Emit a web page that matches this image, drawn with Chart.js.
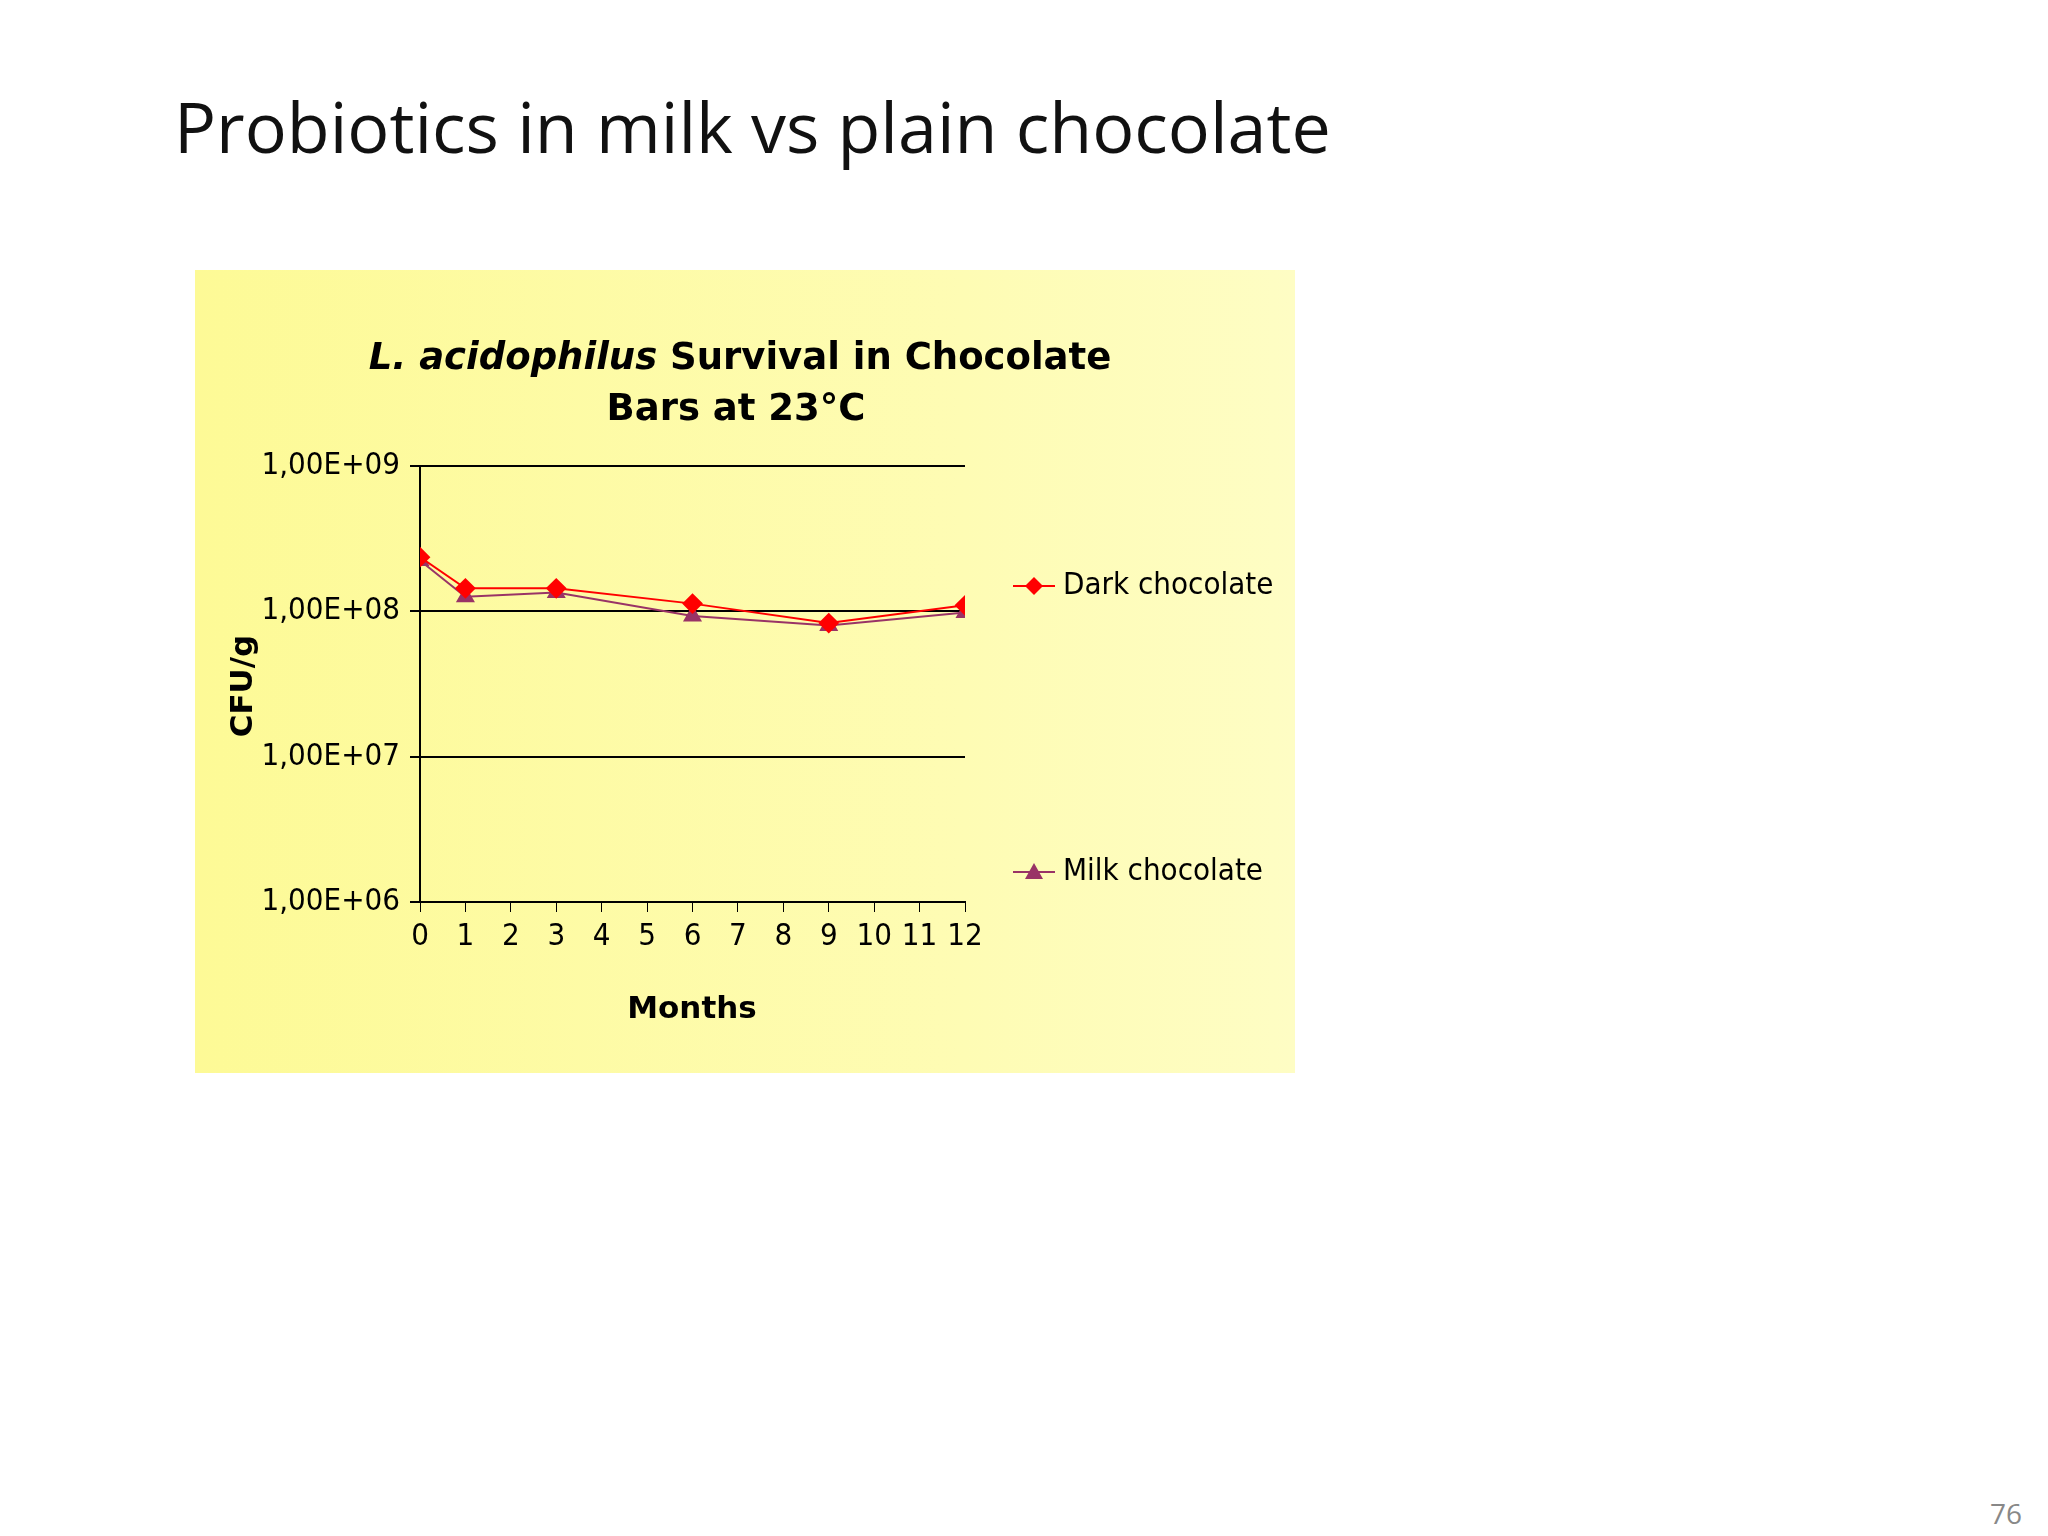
<!DOCTYPE html>
<html><head><meta charset="utf-8">
<script src="https://cdn.jsdelivr.net/npm/chart.js@4"></script>
<style>
body{margin:0;width:2048px;height:1536px;background:#fff;position:relative;overflow:hidden;font-family:"Open Sans",sans-serif}
#t{position:absolute;left:174px;top:78px;font-size:70px;color:#111}
#pg{position:absolute;right:26px;bottom:4px;font-size:28px;color:#888}
#box{position:absolute;left:195px;top:270px;width:1100px;height:803px;background:linear-gradient(90deg,#fdfa96,#fefcb4 70%,#fefdc4)}
</style></head><body>
<div id="t">Probiotics in milk vs plain chocolate</div>
<div id="box"><canvas id="c" width="1100" height="803"></canvas></div>
<div id="pg">76</div>
<script>
const months=[0,1,3,6,9,12];
const darkChocolate=[2.36e8,1.44e8,1.44e8,1.13e8,8.3e7,1.1e8];
const milkChocolate=[2.24e8,1.26e8,1.35e8,9.3e7,8.0e7,9.8e7];
const yTicks=[1e6,1e7,1e8,1e9];
const yLabels=["1,00E+06","1,00E+07","1,00E+08","1,00E+09"];
const lab='"Liberation Sans Narrow","DejaVu Sans Condensed",sans-serif';
const deco={id:'deco',afterDraw(ch){const x=ch.ctx;x.save();x.fillStyle='#000';x.textAlign='center';x.textBaseline='middle';
x.font='bold 37px "DejaVu Sans"';const a='L. acidophilus',b=' Survival in Chocolate';
x.font='italic bold 37px "DejaVu Sans"';const wa=x.measureText(a).width;x.font='bold 37px "DejaVu Sans"';const wb=x.measureText(b).width;
let sx=545-(wa+wb)/2;x.textAlign='left';x.font='italic bold 37px "DejaVu Sans"';x.fillText(a,sx,89);x.font='bold 37px "DejaVu Sans"';x.fillText(b,sx+wa,89);
x.textAlign='center';x.fillText('Bars at 23°C',541,140);
x.font='bold 31px "DejaVu Sans"';x.fillText('Months',497,740);
x.save();x.translate(49,416);x.rotate(-Math.PI/2);x.fillText('CFU/g',0,0);x.restore();
const L=[['Dark chocolate','#ff0000','d',316],['Milk chocolate','#993366','t',602]];
x.textAlign='left';x.font='31px '+lab;
for(const [t,c,m,y] of L){x.strokeStyle=c;x.lineWidth=2;x.beginPath();x.moveTo(818,y);x.lineTo(860,y);x.stroke();x.fillStyle=c;x.beginPath();
if(m==='d'){x.moveTo(839,y-9);x.lineTo(848,y);x.lineTo(839,y+9);x.lineTo(830,y);}else{x.moveTo(839,y-9);x.lineTo(848,y+7);x.lineTo(830,y+7);}
x.closePath();x.fill();x.fillStyle='#000';x.fillText(t,868,y);}
x.restore();}};
new Chart(document.getElementById('c'),{type:'line',
data:{datasets:[
{label:'Dark chocolate',data:months.map((m,i)=>({x:m,y:darkChocolate[i]})),borderColor:'#ff0000',backgroundColor:'#ff0000',borderWidth:2,pointStyle:'rectRot',pointRadius:9,order:1},
{label:'Milk chocolate',data:months.map((m,i)=>({x:m,y:milkChocolate[i]})),borderColor:'#993366',backgroundColor:'#993366',borderWidth:2,pointStyle:'triangle',pointRadius:9,order:2}]},
options:{responsive:false,animation:false,layout:{padding:{left:0,right:330,top:196,bottom:0}},
plugins:{legend:{display:false},tooltip:{enabled:false}},
scales:{
x:{type:'linear',min:0,max:12,ticks:{stepSize:1,color:'#000',font:{family:lab,size:31},padding:6},grid:{drawOnChartArea:false,color:'#000',tickLength:10},border:{color:'#000',width:2},afterFit(s){s.height=171;}},
y:{type:'logarithmic',min:1e6,max:1e9,afterBuildTicks(s){s.ticks=yTicks.map(v=>({value:v}));},
ticks:{color:'#000',font:{family:lab,size:31},padding:10,callback:(v)=>yLabels[yTicks.indexOf(v)]},
grid:{color:'#000',lineWidth:2,tickLength:10},border:{color:'#000',width:2},afterFit(s){s.width=225;}}}},
plugins:[deco]});
</script></body></html>
